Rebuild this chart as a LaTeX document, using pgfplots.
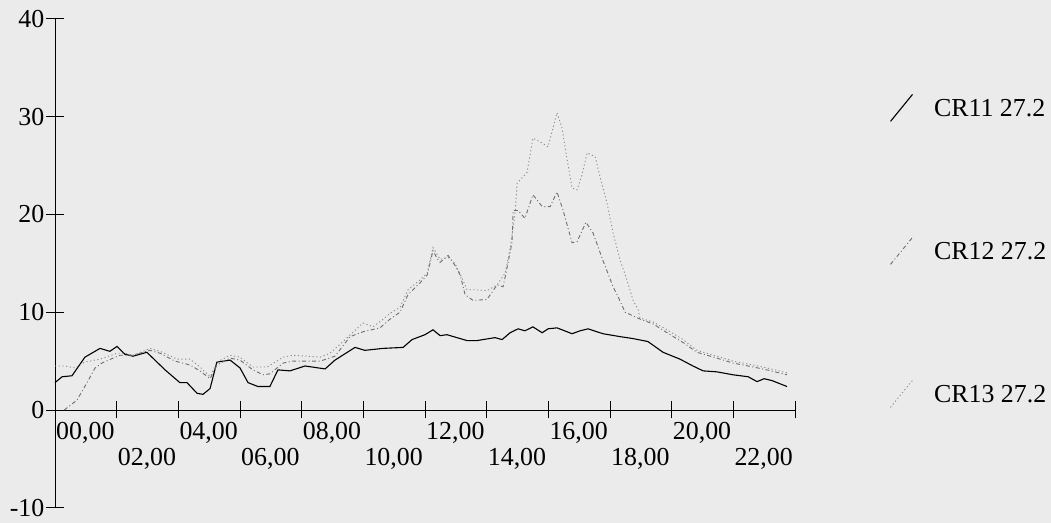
\documentclass[border=0pt]{standalone}
\usepackage{fontspec}
\setmainfont{Liberation Serif}
\usepackage{pgfplots}
\pgfplotsset{compat=1.18}
\definecolor{bg}{RGB}{235,235,235}
\definecolor{c12}{RGB}{110,110,110}
\definecolor{c13}{RGB}{140,140,140}

\pgfplotstableread{
h v
0.00 2.8
0.23 3.4
0.55 3.5
0.97 5.4
1.46 6.3
1.78 6.0
2.01 6.5
2.27 5.7
2.53 5.5
2.98 5.9
3.57 4.1
4.05 2.8
4.28 2.8
4.61 1.7
4.80 1.6
5.03 2.2
5.25 4.9
5.68 5.1
6.00 4.3
6.26 2.8
6.58 2.4
6.97 2.4
7.23 4.1
7.62 4.0
8.11 4.5
8.76 4.2
9.08 5.1
9.73 6.4
10.05 6.1
10.64 6.3
11.29 6.4
11.58 7.2
12.00 7.7
12.26 8.2
12.49 7.6
12.71 7.7
13.36 7.1
13.69 7.1
14.27 7.4
14.50 7.2
14.76 7.9
15.02 8.3
15.24 8.1
15.50 8.5
15.80 7.9
15.99 8.3
16.28 8.4
16.77 7.8
17.03 8.1
17.29 8.3
17.77 7.8
18.33 7.5
18.75 7.3
19.23 7.0
19.72 5.9
20.27 5.2
20.69 4.5
21.02 4.0
21.47 3.9
21.99 3.6
22.48 3.4
22.77 2.9
23.00 3.2
23.26 3.0
23.74 2.4
}\crA

\pgfplotstableread{
h v
0.30 0.0
0.71 1.0
1.04 2.8
1.30 4.3
1.52 4.8
1.88 5.3
2.11 5.6
2.53 5.6
3.08 6.1
3.41 5.8
3.89 5.0
4.38 4.6
4.70 4.0
5.03 3.2
5.25 4.6
5.68 5.3
6.00 5.1
6.42 4.1
6.75 3.6
6.97 3.7
7.40 4.8
7.72 5.0
8.60 5.0
9.08 5.5
9.57 7.5
9.99 8.0
10.54 8.4
10.87 9.3
11.19 10.0
11.45 11.8
11.84 13.0
12.07 13.8
12.26 16.3
12.39 15.5
12.49 15.1
12.75 15.8
12.97 14.8
13.14 13.8
13.30 11.8
13.56 11.2
14.01 11.3
14.34 12.8
14.53 12.6
14.60 13.6
14.82 17.1
14.86 20.4
15.02 20.4
15.24 19.6
15.50 22.0
15.80 20.8
16.06 20.8
16.28 22.3
16.48 20.4
16.77 17.1
16.93 17.2
17.22 19.2
17.45 18.1
17.77 15.3
18.10 12.6
18.26 11.6
18.49 10.0
18.97 9.3
19.40 8.8
19.85 7.9
20.37 6.9
20.82 5.9
21.47 5.3
21.99 4.8
22.64 4.4
23.09 4.1
23.74 3.6
}\crB

\pgfplotstableread{
h v
0.00 4.5
0.32 4.5
0.65 4.3
0.97 4.9
1.46 5.2
2.01 5.8
2.27 5.8
2.53 5.6
3.08 6.3
3.41 6.0
3.96 5.2
4.38 5.2
4.70 4.4
5.03 3.4
5.25 4.9
5.68 5.6
6.00 5.4
6.42 4.4
6.88 4.4
7.40 5.4
7.72 5.6
8.60 5.4
8.92 5.8
9.41 7.2
9.99 8.9
10.31 8.5
10.61 9.2
10.87 9.9
11.19 10.5
11.45 12.3
11.84 13.3
12.07 14.0
12.26 16.6
12.49 15.4
12.75 15.6
12.97 15.0
13.20 13.5
13.36 12.3
13.56 12.3
14.01 12.2
14.34 12.8
14.60 14.0
14.76 16.5
14.92 20.0
14.99 23.2
15.31 24.3
15.50 27.8
15.80 27.3
15.99 26.9
16.28 30.4
16.44 28.9
16.61 25.6
16.77 22.7
16.93 22.5
17.09 24.0
17.26 26.3
17.52 25.9
17.68 23.8
17.90 21.2
18.10 18.1
18.33 15.3
18.55 13.3
18.75 11.2
18.91 10.3
18.97 9.4
19.40 9.0
19.85 8.2
20.37 7.2
20.82 6.1
21.47 5.5
21.99 5.0
22.64 4.6
23.09 4.3
23.74 3.8
}\crC

\begin{document}
\begin{tikzpicture}
\fill[bg] (0bp,0bp) rectangle (1051bp,523bp);
\begin{axis}[
  at={(55bp,113bp)}, anchor=origin,
  x=30.8333bp, y=9.78bp,
  xmin=0, xmax=24, ymin=-10, ymax=40,
  axis x line=middle, axis y line=left,
  axis line style={-, black, line width=0.7bp},
  hide obscured x ticks=false, hide obscured y ticks=false,
  tick align=center, major tick length=17bp,
  tick style={black, line width=0.7bp},
  clip=false,
  font=\fontsize{26}{31}\selectfont,
  tick label style={font=\fontsize{26}{31}\selectfont},
  ytick={-10,0,10,20,30,40},
  yticklabels={-10,0,10,20,30,40},
  yticklabel style={anchor=east, inner sep=0pt, xshift=-2bp},
  xtick={0,4,8,12,16,20},
  xticklabels={{00,00},{04,00},{08,00},{12,00},{16,00},{20,00}},
  xticklabel style={anchor=north west, inner sep=0pt, xshift=1bp, yshift=-4bp},
  extra x ticks={2,6,10,14,18,22,24},
  extra x tick labels={{02,00},{06,00},{10,00},{14,00},{18,00},{22,00},{}},
  extra x tick style={xticklabel style={yshift=-26bp}},
  legend image code/.code={\draw[#1] (0bp,-13bp) -- (22bp,14bp);},
  legend style={draw=none, fill=none, at={(1.124,0.851)}, anchor=north west,
     row sep=115bp, font=\fontsize{26}{31}\selectfont, column sep=19bp},
  legend cell align=left,
]
\addplot[black, line width=1.1bp] table[x=h,y=v] {\crA};
\addplot[c12, line width=0.9bp, dash pattern=on 4bp off 2.5bp on 1bp off 2.5bp] table[x=h,y=v] {\crB};
\addplot[c13, line width=0.9bp, dash pattern=on 1.2bp off 2.5bp] table[x=h,y=v] {\crC};
\legend{CR11 27.2, CR12 27.2, CR13 27.2}
\end{axis}
\pgfresetboundingbox
\path (0bp,0bp) rectangle (1051bp,523bp);
\end{tikzpicture}
\end{document}
